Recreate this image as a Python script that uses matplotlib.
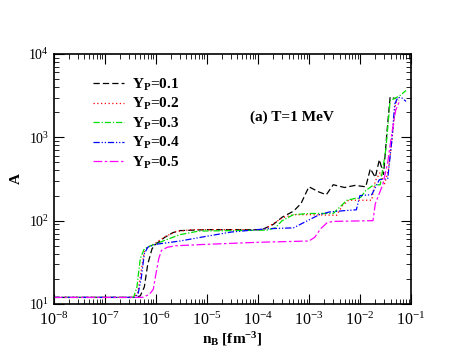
import numpy as np
import matplotlib
matplotlib.use('Agg')
import matplotlib.pyplot as plt
from matplotlib.ticker import LogLocator, LogFormatterMathtext, NullFormatter, FixedLocator

plt.rcParams['font.family'] = 'Liberation Serif'
plt.rcParams['mathtext.fontset'] = 'custom'
plt.rcParams['mathtext.rm'] = 'Liberation Serif'
plt.rcParams['mathtext.it'] = 'Liberation Serif:italic'
plt.rcParams['mathtext.bf'] = 'Liberation Serif:bold'

labels = ['Y$_\\mathbf{P}$=0.1', 'Y$_\\mathbf{P}$=0.2', 'Y$_\\mathbf{P}$=0.3',
          'Y$_\\mathbf{P}$=0.4', 'Y$_\\mathbf{P}$=0.5']

xticks = [1e-8, 1e-7, 1e-6, 1e-5, 1e-4, 1e-3, 1e-2, 1e-1]
yticks = [1e1, 1e2, 1e3, 1e4]

# Y_P = 0.1
nb1 = [1e-8, 4.0e-7, 5.0e-7, 6.0e-7, 7.0e-7, 8.5e-7, 1.0e-6, 1.5e-6, 2.2e-6, 3e-6,
       1e-5, 1.2e-4, 2e-4, 3e-4, 5e-4, 7e-4, 1.0e-3, 1.6e-3, 2.2e-3, 3.0e-3,
       5.0e-3, 8e-3, 1.3e-2, 1.6e-2, 2.0e-2, 2.4e-2, 2.9e-2, 3.4e-2, 3.9e-2, 5.0e-2]
a1 = [12, 12, 12.5, 16, 30, 46, 52, 63, 72, 76,
      78, 78, 90, 110, 130, 160, 255, 220, 205, 270,
      250, 265, 255, 420, 330, 540, 360, 1200, 3050, 2900]

# Y_P = 0.2
nb2 = [1e-8, 3.8e-7, 4.5e-7, 5.2e-7, 6.0e-7, 7.0e-7, 1.0e-6, 1.5e-6, 2.5e-6, 5e-6,
       1.3e-4, 2e-4, 3e-4, 5e-4, 1e-3, 3.5e-3, 4.5e-3, 6e-3, 1.7e-2, 2.0e-2,
       2.5e-2, 3.0e-2, 3.6e-2, 4.3e-2, 5.0e-2, 5.8e-2]
a2 = [12, 12, 14, 25, 42, 48, 54, 64, 74, 78,
      78, 92, 108, 118, 118, 116, 150, 176, 176, 300,
      380, 270, 400, 1000, 2600, 2800]

# Y_P = 0.3
nb3 = [1e-8, 3.7e-7, 4.3e-7, 5.0e-7, 6.0e-7, 8e-7, 1.2e-6, 2e-6, 3e-6, 7e-6,
       1.5e-4, 2.2e-4, 3e-4, 5e-4, 1e-3, 3e-3, 5.5e-3, 8e-3, 1.0e-2, 1.3e-2,
       1.8e-2, 2.5e-2, 3.2e-2, 3.9e-2, 6.0e-2, 8.0e-2]
a3 = [12, 12, 16, 35, 46, 50, 55, 62, 68, 75,
      77, 82, 100, 118, 122, 122, 175, 185, 185, 230,
      265, 270, 700, 2750, 3150, 3650]

# Y_P = 0.4
nb4 = [1e-8, 3.8e-7, 4.5e-7, 5.2e-7, 6.0e-7, 7.0e-7, 1.0e-6, 3e-6, 1e-5, 3e-5,
       1.5e-4, 5e-4, 8e-4, 1.6e-3, 2.5e-3, 5e-3, 8.5e-3, 1.0e-2, 1.7e-2, 2.4e-2,
       3.5e-2, 4.2e-2, 4.8e-2, 5.5e-2, 6.5e-2, 8e-2]
a4 = [12, 12, 13, 20, 40, 48, 52, 57, 65, 73,
      80, 82, 95, 118, 127, 132, 135, 200, 205, 310,
      320, 900, 2500, 3000, 3000, 2700]

# Y_P = 0.5
nb5 = [1e-8, 5.5e-7, 7.5e-7, 9.0e-7, 1.0e-6, 1.15e-6, 1.3e-6, 1.7e-6, 2.5e-6, 1e-5,
       1e-4, 1.0e-3, 1.3e-3, 1.7e-3, 2.3e-3, 3e-3, 1.8e-2, 2.0e-2, 2.8e-2, 3.5e-2,
       4.2e-2, 5.0e-2, 6.0e-2]
a5 = [12, 12, 13, 15, 22, 35, 44, 48, 50, 52,
      55, 57, 63, 80, 95, 98, 100, 160, 270, 500,
      1100, 2100, 2750]

series = [(nb1, a1, 'black', (0, (5, 2.5))),
          (nb2, a2, 'red', (0, (1, 2))),
          (nb3, a3, '#00e000', (0, (5, 1.5, 1, 1.5))),
          (nb4, a4, 'blue', (0, (5, 1.5, 1, 1.5, 1, 1.5))),
          (nb5, a5, 'magenta', (0, (7, 2, 2, 2)))]

fig = plt.figure(figsize=(4.63, 3.58), dpi=100)
ax = fig.add_axes([53.5 / 463, 1 - 304 / 358, 357.5 / 463, 250 / 358])

for (nb, a, c, ls), lab in zip(series, labels):
    ax.plot(nb, a, color=c, linestyle=ls, linewidth=0.9, label=lab)

ax.set_xscale('log')
ax.set_yscale('log')
ax.set_xlim(1e-8, 1e-1)
ax.set_ylim(10, 1e4)

ax.xaxis.set_major_locator(FixedLocator(xticks))
ax.yaxis.set_major_locator(FixedLocator(yticks))
ax.xaxis.set_minor_locator(LogLocator(base=10, subs=np.arange(2, 10), numticks=20))
ax.yaxis.set_minor_locator(LogLocator(base=10, subs=np.arange(2, 10), numticks=20))
ax.xaxis.set_major_formatter(LogFormatterMathtext())
ax.yaxis.set_major_formatter(LogFormatterMathtext())
ax.xaxis.set_minor_formatter(NullFormatter())
ax.yaxis.set_minor_formatter(NullFormatter())

ax.tick_params(which='both', direction='in', top=True, right=True)
ax.tick_params(axis='x', labelsize=11.5, pad=5.5)
ax.tick_params(axis='y', labelsize=10, pad=3)
ax.tick_params(which='major', length=7, width=0.8)
ax.tick_params(which='minor', length=3.5, width=0.6)
for s in ax.spines.values():
    s.set_linewidth(1.2)

ax.set_xlabel('n$_\\mathbf{B}$ [fm$^\\mathbf{-3}$]', fontsize=11, fontweight='bold', labelpad=1)
ax.set_ylabel('A', fontsize=11, fontweight='bold', labelpad=4)

leg = ax.legend(loc='upper left', bbox_to_anchor=(0.09, 0.94), frameon=False,
                prop={'weight': 'bold', 'size': 11}, handlelength=2.0,
                handletextpad=0.55, labelspacing=0.22, borderpad=0)

ax.text(0.55, 0.745, '(a) T=1 MeV', transform=ax.transAxes, fontsize=11,
        fontweight='bold', va='center')

fig.savefig('out.png', dpi=100)
